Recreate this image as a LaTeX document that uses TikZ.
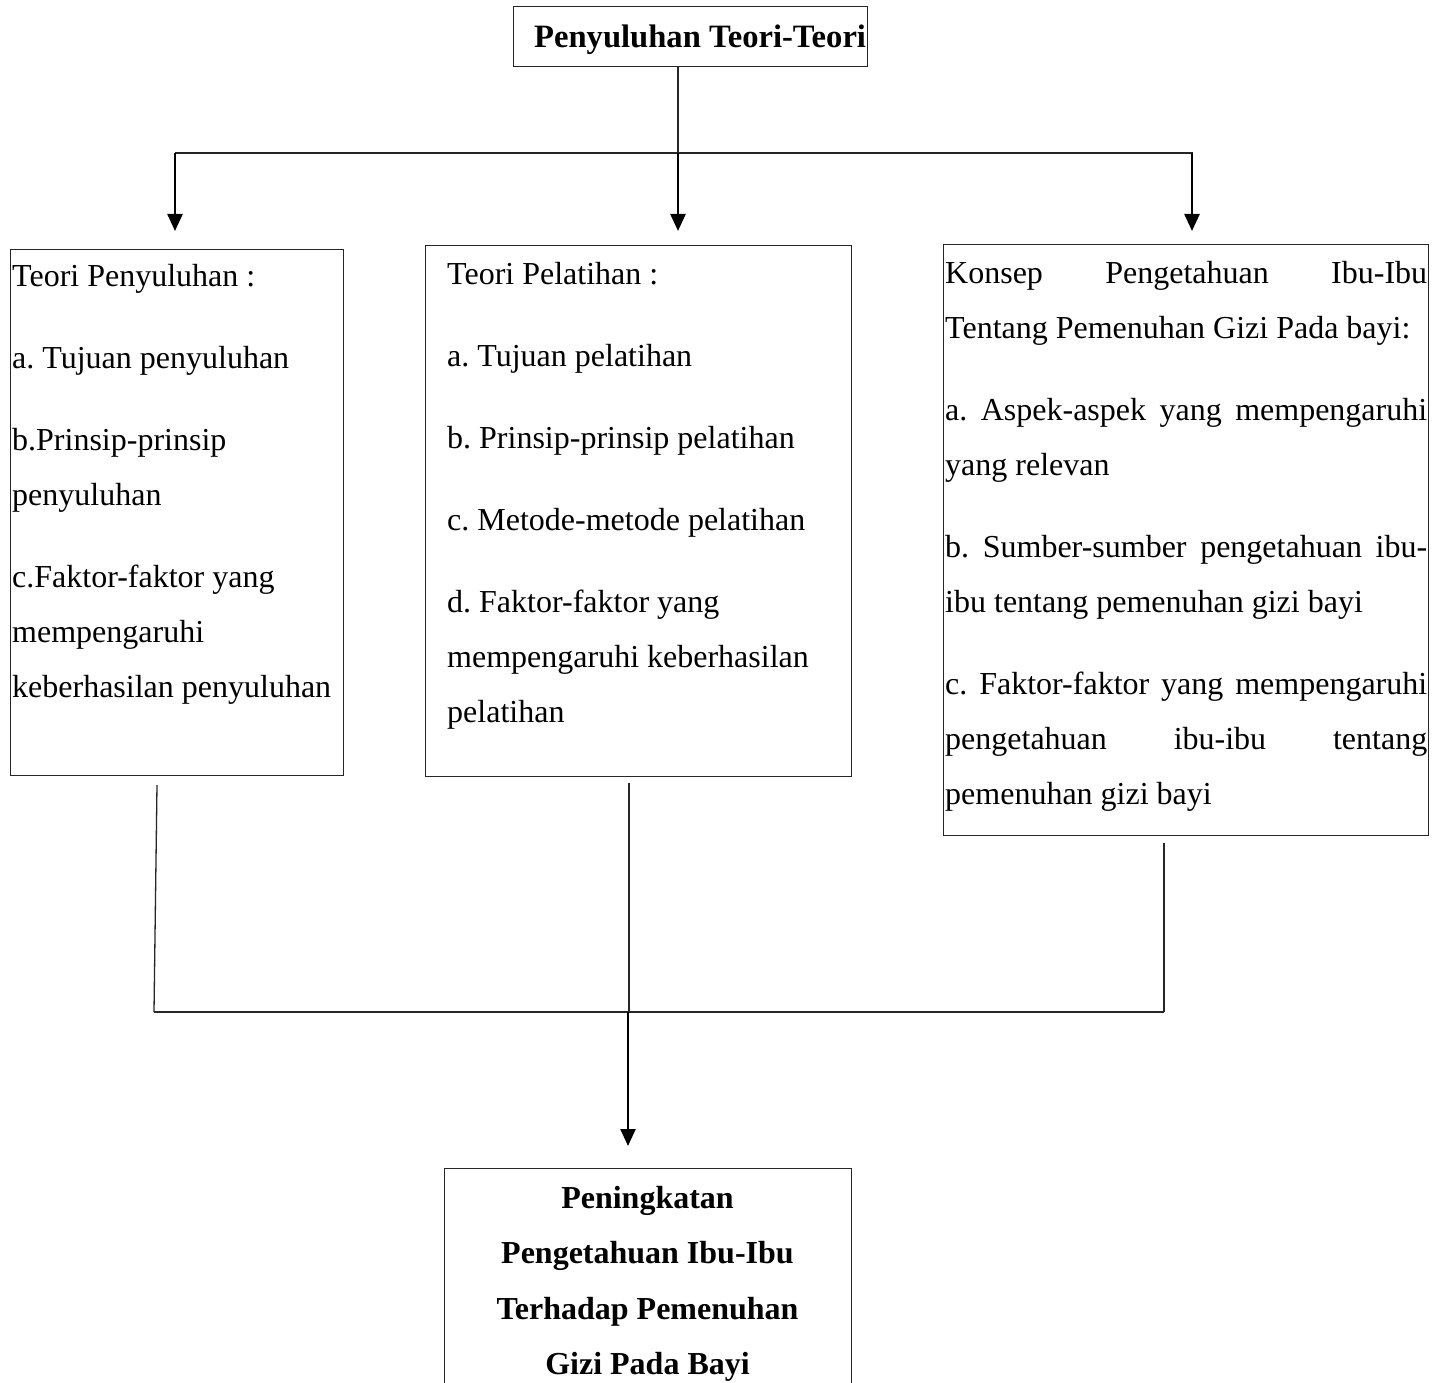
\documentclass[tikz,border=0pt]{standalone}
\usepackage{fontspec}
\setmainfont{Liberation Serif}
\usetikzlibrary{arrows.meta}
\frenchspacing
\tikzset{
  boxnode/.style={draw=black!85, line width=1.3pt, inner sep=0pt, anchor=north west},
  thinline/.style={draw=black!85, line width=1.3pt},
  arrowline/.style={draw=black, line width=2.4pt, -{Triangle[width=15pt,length=17pt]}},
  txtnode/.style={inner sep=0pt, anchor=base west},
}
\newcommand{\boxtextsetup}{\fontsize{32}{55}\selectfont\frenchspacing\setlength{\parindent}{0pt}\setlength{\parskip}{27pt}\hyphenpenalty=10000\exhyphenpenalty=10000}
\begin{document}
\begin{tikzpicture}[x=1pt,y=-1pt]
\clip (0,0) rectangle (1445,1383);
\useasboundingbox (0,0) rectangle (1445,1383);

% boxes
\node[boxnode, minimum width=354pt, minimum height=60pt] (title) at (513,6) {};
\node[boxnode, minimum width=333pt, minimum height=526pt] (b1) at (10,249) {};
\node[boxnode, minimum width=426pt, minimum height=531pt] (b2) at (425,245) {};
\node[boxnode, minimum width=485pt, minimum height=591pt] (b3) at (943,244) {};
\node[boxnode, minimum width=407pt, minimum height=260pt] (b4) at (444,1168) {};

% texts
\node[txtnode] (titletext) at (534,48) {\fontsize{32.6}{38}\selectfont\bfseries Penyuluhan Teori-Teori};

\node[txtnode] (t1) at (12,286) {\begin{minipage}[t]{335pt}\boxtextsetup\raggedright
Teori Penyuluhan :\par
a. Tujuan penyuluhan\par
b.Prinsip-prinsip\\penyuluhan\par
c.Faktor-faktor yang\\mempengaruhi\\keberhasilan penyuluhan\par
\end{minipage}};

\node[txtnode] (t2) at (447,284) {\begin{minipage}[t]{400pt}\boxtextsetup\raggedright
Teori Pelatihan :\par
a. Tujuan pelatihan\par
b. Prinsip-prinsip pelatihan\par
c. Metode-metode pelatihan\par
d. Faktor-faktor yang\\mempengaruhi keberhasilan\\pelatihan\par
\end{minipage}};

\node[txtnode] (t3) at (945,283) {\begin{minipage}[t]{482pt}\boxtextsetup
Konsep Pengetahuan Ibu-Ibu\linebreak Tentang Pemenuhan Gizi Pada bayi:\par
a. Aspek-aspek yang mempengaruhi\linebreak yang relevan\par
b. Sumber-sumber pengetahuan ibu-\linebreak ibu tentang pemenuhan gizi bayi\par
c. Faktor-faktor yang mempengaruhi\linebreak pengetahuan ibu-ibu tentang\linebreak pemenuhan gizi bayi\par
\end{minipage}};

\node[inner sep=0pt, anchor=base] (t4) at (647.5,1208) {\begin{minipage}[t]{400pt}\centering\fontsize{32}{55.5}\selectfont\bfseries
Peningkatan\\Pengetahuan Ibu-Ibu\\Terhadap Pemenuhan\\Gizi Pada Bayi\par
\end{minipage}};

% top connectors
\coordinate (ts) at (678,66);
\coordinate (j1) at (175,153);
\coordinate (j2) at (678,153);
\coordinate (j3) at (1192,153);
\coordinate (jr) at (1193,153);
\coordinate (e1) at (175,231);
\coordinate (e2) at (678,231);
\coordinate (e3) at (1192,231);
\draw[thinline] (ts) -- (j2);
\draw[thinline] (j1) -- (jr);
\draw[arrowline] (j1) -- (e1);
\draw[arrowline] (j2) -- (e2);
\draw[arrowline] (j3) -- (e3);

% bottom connectors
\coordinate (u1) at (157,785);
\coordinate (d1) at (154,1012);
\coordinate (u2) at (629,783);
\coordinate (d2) at (629,1012);
\coordinate (u3) at (1164,843);
\coordinate (d3) at (1164,1012);
\coordinate (m) at (628,1012);
\coordinate (e4) at (628,1146);
\draw[thinline] (u1) -- (d1);
\draw[thinline] (u2) -- (d2);
\draw[thinline] (u3) -- (d3);
\draw[thinline] (d1) -- (d3);
\draw[arrowline] (m) -- (e4);
\end{tikzpicture}
\end{document}
